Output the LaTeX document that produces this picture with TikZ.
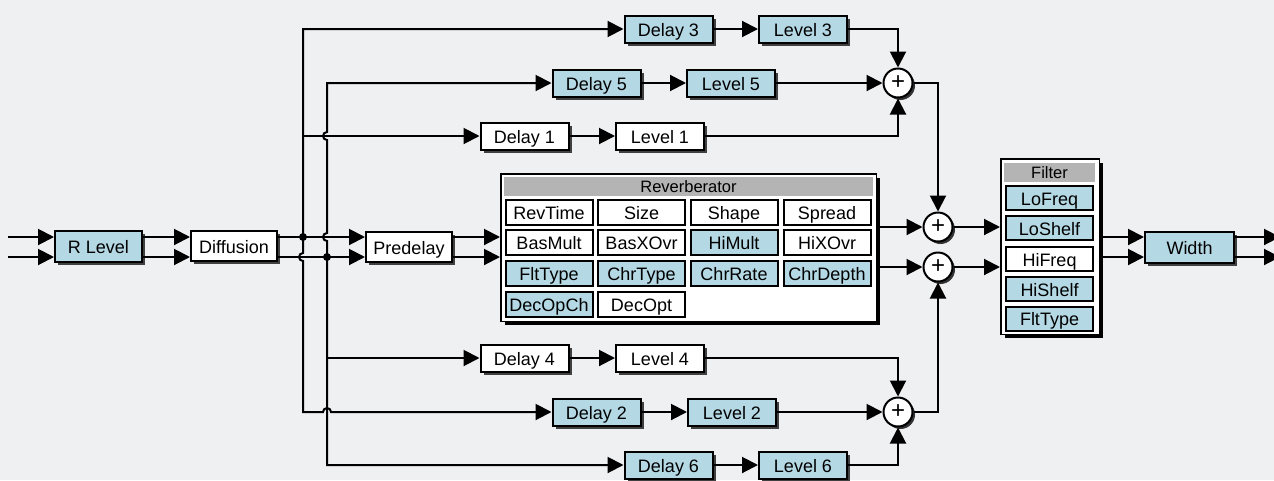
\documentclass[tikz,border=0pt]{standalone}
\usepackage{fontspec}
\setmainfont{Liberation Sans}
\usetikzlibrary{arrows.meta,shadows}
\definecolor{bg}{HTML}{EFF0F2}
\definecolor{pblue}{HTML}{B4D8E4}
\definecolor{tbar}{HTML}{B4B4B4}

\tikzset{
  lbl/.style={font=\fontsize{18}{20}\selectfont, text height=14pt, text depth=0pt},
  blk/.style={rectangle, draw=black, line width=2pt, inner sep=0pt,
    minimum width=88pt, minimum height=27pt, lbl,
    drop shadow={shadow xshift=3pt, shadow yshift=-3pt, fill=black!75, opacity=1}},
  wb/.style={blk, fill=white},
  bb/.style={blk, fill=pblue},
  cellw/.style={rectangle, draw=black, line width=2pt, inner sep=0pt,
    minimum width=87pt, minimum height=25pt, fill=white, lbl},
  cellb/.style={cellw, fill=pblue},
  frame/.style={rectangle, draw=black, line width=1.5pt, fill=white, inner sep=0pt,
    drop shadow={shadow xshift=4pt, shadow yshift=-4pt, fill=black, opacity=1}},
  bar/.style={rectangle, fill=tbar, inner sep=0pt,
    font=\fontsize{16.5}{18}\selectfont, text height=12pt, text depth=0pt},
  sum/.style={circle, draw=black, line width=2pt, fill=white, minimum size=29pt,
    inner sep=0pt, font=\fontsize{24}{24}\selectfont, text height=13pt, text depth=0pt,
    drop shadow={shadow xshift=2.5pt, shadow yshift=-2.5pt, fill=black!80, opacity=1}},
  wire/.style={line width=2pt},
  tip/.tip={Triangle[length=16pt,width=16pt]},
  arr/.style={wire, -tip},
  darr/.style={wire, tip-tip},
}

\begin{document}
\begin{tikzpicture}[x=1pt, y=-1pt]
  \useasboundingbox (0,0) rectangle (1274,480);
  \clip (0,0) rectangle (1274,480);
  \fill[bg] (0,0) rectangle (1274,480);

  % signal levels
  \coordinate (yt) at (0,237);
  \coordinate (yb) at (0,257);
  \coordinate (ya) at (0,227);
  \coordinate (yc) at (0,267);

  % input stage
  \node[bb, minimum width=87pt, minimum height=31pt] (rl) at (98.5,246.5) {R Level};
  \node[wb, minimum width=86pt, minimum height=30pt] (df) at (234,246) {Diffusion};
  \node[wb, minimum width=86pt, minimum height=30pt] (pd) at (409,247) {Predelay};

  % tap delays and levels
  \node[bb] (d3) at (668.5,29)  {Delay 3};
  \node[bb] (l3) at (803,29)    {Level 3};
  \node[bb] (d5) at (596.5,83)  {Delay 5};
  \node[bb] (l5) at (731,83)    {Level 5};
  \node[wb] (d1) at (524.5,136) {Delay 1};
  \node[wb] (l1) at (660,136)   {Level 1};
  \node[wb] (d4) at (524.5,358) {Delay 4};
  \node[wb] (l4) at (660,358)   {Level 4};
  \node[bb] (d2) at (596.5,412) {Delay 2};
  \node[bb] (l2) at (732,412)   {Level 2};
  \node[bb] (d6) at (668.5,465) {Delay 6};
  \node[bb] (l6) at (803,465)   {Level 6};

  % summing junctions
  \node[sum] (sA) at (898,83)  {+};
  \node[sum] (sB) at (898,412) {+};
  \node[sum] (sL) at (938,227) {+};
  \node[sum] (sR) at (938,267) {+};

  % reverberator block
  \node[frame, minimum width=375.5pt, minimum height=147.5pt] (rv) at (688.5,247.5) {};
  \node[bar, minimum width=369pt, minimum height=19pt] (rvt) at (688.5,186.5) {Reverberator};
  \node[cellw] (r11) at (549,212.5)   {RevTime};
  \node[cellw] (r12) at (641.5,212.5) {Size};
  \node[cellw] (r13) at (734,212.5)   {Shape};
  \node[cellw] (r14) at (827,212.5)   {Spread};
  \node[cellw] (r21) at (549,242.5)   {BasMult};
  \node[cellw] (r22) at (641.5,242.5) {BasXOvr};
  \node[cellb] (r23) at (734,242.5)   {HiMult};
  \node[cellw] (r24) at (827,242.5)   {HiXOvr};
  \node[cellb] (r31) at (549,273.5)   {FltType};
  \node[cellb] (r32) at (641.5,273.5) {ChrType};
  \node[cellb] (r33) at (734,273.5)   {ChrRate};
  \node[cellb] (r34) at (827,273.5)   {ChrDepth};
  \node[cellb] (r41) at (549,304)     {DecOpCh};
  \node[cellw] (r42) at (641.5,304)   {DecOpt};

  % filter block
  \node[frame, minimum width=98.5pt, minimum height=175.5pt] (fl) at (1050,246.5) {};
  \node[bar, minimum width=91pt, minimum height=19pt] (flt) at (1049.5,172.5) {Filter};
  \node[cellb, minimum height=24pt] (f1) at (1049.5,198)   {LoFreq};
  \node[cellb, minimum height=24pt] (f2) at (1049.5,228)   {LoShelf};
  \node[cellw, minimum height=24pt] (f3) at (1049.5,259)   {HiFreq};
  \node[cellb, minimum height=24pt] (f4) at (1049.5,289)   {HiShelf};
  \node[cellb, minimum height=24pt] (f5) at (1049.5,318.5) {FltType};

  % output stage
  \node[bb, minimum width=89pt, minimum height=31pt] (wd) at (1189.5,247.5) {Width};

  % free ends of the stereo pair
  \coordinate (inT) at (8,237);
  \coordinate (inB) at (8,257);
  \coordinate (outT) at (1280,237);
  \coordinate (outB) at (1280,257);

  % input -> R Level -> Diffusion
  \draw[arr] (inT) -- (rl.west |- yt);
  \draw[arr] (inB) -- (rl.west |- yb);
  \draw[arr] (rl.east |- yt) -- (df.west |- yt);
  \draw[arr] (rl.east |- yb) -- (df.west |- yb);

  % Diffusion -> Predelay, with the two tap buses tapped off
  \draw[arr] (df.east |- yt) -- (pd.west |- yt);
  \draw[arr] (df.east |- yb) -- (pd.west |- yb);
  \coordinate (jT) at (303,237);
  \coordinate (jB) at (327,257);
  \fill (jT) circle[radius=4];
  \fill (jB) circle[radius=4];

  % left tap bus (x = 303): Delay 3, Delay 1, Delay 2
  \draw[darr] (d2.west) -- (331,412) arc[start angle=0, end angle=-180, radius=4]
    -- (303,412) -- (303,261) arc[start angle=90, end angle=270, radius=4]
    -- (303,29) -- (d3.west);
  \coordinate (t1) at (303,136);
  \draw[arr] (t1) -- (d1.west);

  % right tap bus (x = 327): Delay 5, Delay 4, Delay 6
  \draw[darr] (d5.west) -- (327,83) -- (327,132) arc[start angle=270, end angle=90, radius=4]
    -- (327,233) arc[start angle=270, end angle=90, radius=4]
    -- (327,465) -- (d6.west);
  \coordinate (t4) at (327,358);
  \draw[arr] (t4) -- (d4.west);

  % Predelay -> Reverberator
  \draw[arr] (pd.east |- yt) -- (rv.west |- yt);
  \draw[arr] (pd.east |- yb) -- (rv.west |- yb);

  % delay -> level
  \draw[arr] (d3) -- (l3);
  \draw[arr] (d5) -- (l5);
  \draw[arr] (d1) -- (l1);
  \draw[arr] (d4) -- (l4);
  \draw[arr] (d2) -- (l2);
  \draw[arr] (d6) -- (l6);

  % levels -> summing junctions
  \draw[arr] (l3.east) -| (sA.north);
  \draw[arr] (l5.east) -- (sA.west);
  \draw[arr] (l1.east) -| (sA.south);
  \draw[arr] (l4.east) -| (sB.north);
  \draw[arr] (l2.east) -- (sB.west);
  \draw[arr] (l6.east) -| (sB.south);

  % early reflections into the reverb outputs
  \draw[arr] (sA.east) -| (sL.north);
  \draw[arr] (sB.east) -| (sR.south);
  \draw[arr] (rv.east |- ya) -- (sL.west);
  \draw[arr] (rv.east |- yc) -- (sR.west);

  % -> Filter -> Width -> out
  \draw[arr] (sL.east) -- (fl.west |- ya);
  \draw[arr] (sR.east) -- (fl.west |- yc);
  \draw[arr] (fl.east |- yt) -- (wd.west |- yt);
  \draw[arr] (fl.east |- yb) -- (wd.west |- yb);
  \draw[arr] (wd.east |- yt) -- (outT);
  \draw[arr] (wd.east |- yb) -- (outB);
\end{tikzpicture}
\end{document}
